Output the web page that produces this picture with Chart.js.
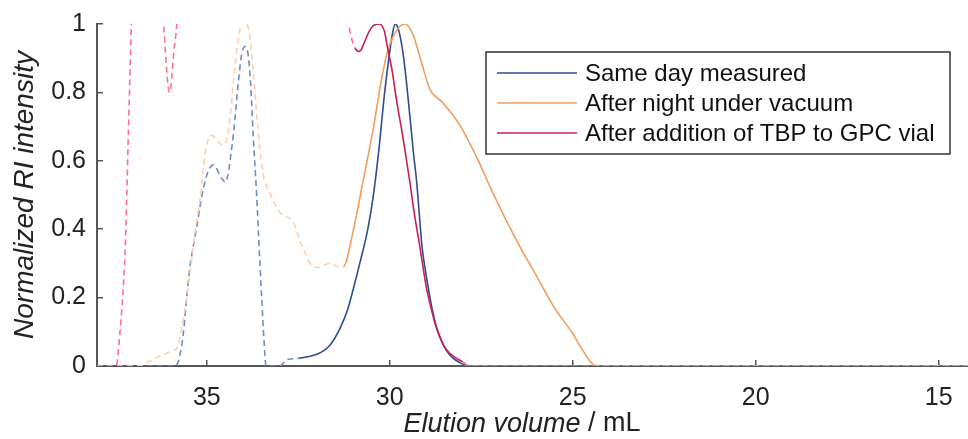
<!DOCTYPE html>
<html>
<head>
<meta charset="utf-8">
<script src="https://cdn.jsdelivr.net/npm/chart.js@4.4.1/dist/chart.umd.min.js"></script>
<style>
  html, body { margin: 0; padding: 0; background: #fff; }
  canvas { display: block; }
</style>
</head>
<body>
<canvas id="grafico" width="968" height="439"></canvas>
<script>
// GPC traces: elution volume (mL) vs normalized RI intensity
const volumeSameDay = [38, 35.85, 35.72, 35.64, 35.55, 35.46, 35.37, 35.27, 35.18, 35.09, 34.96, 34.82, 34.72, 34.64, 34.55, 34.50, 34.41, 34.34, 34.27, 34.14, 34.05, 33.96, 33.87, 33.80, 33.73, 33.64, 33.58, 33.50, 33.44, 33.38, 33.00, 32.82, 32.65, 32.46, 32.20, 31.91, 31.64, 31.36, 31.15, 31.01, 30.82, 30.60, 30.46, 30.30, 30.14, 30.00, 29.92, 29.85, 29.78, 29.70, 29.62, 29.55, 29.45, 29.35, 29.27, 29.19, 29.12, 29.02, 28.91, 28.83, 28.74, 28.64, 28.45, 28.28, 28.09, 27.95, 27.60, 14.2];
const intensitySameDay = [0, 0, 0.04, 0.096, 0.2, 0.29, 0.35, 0.41, 0.47, 0.52, 0.57, 0.588, 0.575, 0.556, 0.543, 0.537, 0.565, 0.62, 0.68, 0.827, 0.91, 0.934, 0.91, 0.82, 0.67, 0.505, 0.37, 0.2, 0.08, 0, 0, 0.018, 0.021, 0.023, 0.028, 0.038, 0.06, 0.11, 0.165, 0.22, 0.30, 0.40, 0.49, 0.63, 0.80, 0.92, 0.975, 1.0, 0.99, 0.955, 0.9, 0.836, 0.73, 0.62, 0.544, 0.44, 0.35, 0.275, 0.205, 0.16, 0.12, 0.088, 0.045, 0.024, 0.01, 0.003, 0, 0];

const volumeVacuum = [38, 36.85, 36.55, 36.27, 35.92, 35.80, 35.67, 35.55, 35.45, 35.37, 35.28, 35.18, 35.05, 34.95, 34.86, 34.72, 34.55, 34.45, 34.36, 34.23, 34.09, 33.98, 33.87, 33.80, 33.73, 33.60, 33.46, 33.36, 33.27, 33.05, 32.86, 32.73, 32.59, 32.46, 32.27, 32.09, 31.91, 31.75, 31.64, 31.52, 31.41, 31.27, 31.01, 30.74, 30.44, 30.24, 30.06, 29.82, 29.59, 29.37, 29.10, 28.91, 28.55, 28.09, 27.60, 27.20, 26.50, 26.00, 25.50, 25.00, 24.75, 24.44, 24.20, 14.2];
const intensityVacuum = [0, 0, 0.015, 0.03, 0.045, 0.055, 0.12, 0.2, 0.28, 0.35, 0.42, 0.49, 0.62, 0.665, 0.675, 0.66, 0.646, 0.665, 0.73, 0.875, 0.985, 1.01, 0.99, 0.94, 0.86, 0.69, 0.56, 0.525, 0.505, 0.456, 0.437, 0.432, 0.41, 0.368, 0.32, 0.29, 0.288, 0.297, 0.3, 0.295, 0.29, 0.29, 0.39, 0.535, 0.70, 0.83, 0.92, 0.98, 1.0, 0.97, 0.875, 0.81, 0.77, 0.705, 0.605, 0.51, 0.36, 0.265, 0.17, 0.095, 0.05, 0.005, 0, 0];

const volumeTbp = [38, 37.50, 37.45, 37.38, 37.30, 37.23, 37.14, 37.06, 37.00, 36.60, 36.25, 36.18, 36.12, 36.06, 36.02, 35.98, 35.90, 35.82, 35.75, 33.50, 31.20, 31.11, 31.02, 30.95, 30.87, 30.80, 30.70, 30.58, 30.45, 30.29, 30.15, 30.06, 29.93, 29.82, 29.65, 29.46, 29.32, 29.18, 29.00, 28.85, 28.75, 28.55, 28.37, 28.01, 27.80, 14.2];
const intensityTbp = [0, 0, 0.01, 0.09, 0.2, 0.34, 0.69, 1.0, 1.2, 1.5, 1.1, 1.0, 0.9, 0.82, 0.8, 0.82, 0.92, 1.0, 1.15, 1.6, 1.05, 0.99, 0.95, 0.93, 0.92, 0.922, 0.945, 0.975, 0.995, 1.0, 0.98, 0.93, 0.86, 0.78, 0.675, 0.544, 0.44, 0.35, 0.23, 0.16, 0.12, 0.065, 0.038, 0.012, 0, 0];

// polymer peak window (solid), everything else is dashed
const peakSameDay = [32.46, 27.95];
const peakVacuum = [31.27, 24.44];
const peakTbp = [30.95, 28.01];

const seriesNames = ['Same day measured', 'After night under vacuum', 'After addition of TBP to GPC vial'];
const xTicks = [35, 30, 25, 20, 15];
const yTicks = [0, 0.2, 0.4, 0.6, 0.8, 1];

const corSolida = ['rgb(46, 76, 146)', 'rgb(243, 156, 92)', 'rgb(204, 30, 82)'];
const corTracejada = ['rgb(112, 140, 196)', 'rgb(255, 206, 174)', 'rgb(255, 112, 142)'];
const corEixo = '#555';
const fonte = '"Liberation Sans", Arial, Helvetica, sans-serif';

function pontos(xs, ys) {
    return xs.map((x, i) => ({ x: x, y: ys[i] }));
}

function dentroDoPico(ctx, faixa) {
    return ctx.p0.parsed.x <= faixa[0] + 1e-6 && ctx.p1.parsed.x >= faixa[1] - 1e-6;
}

function criarSerie(i, xs, ys, faixa, ordem) {
    return {
        label: seriesNames[i],
        data: pontos(xs, ys),
        borderColor: corSolida[i],
        borderWidth: 1.6,
        pointRadius: 0,
        cubicInterpolationMode: 'monotone',
        order: ordem,
        segment: {
            borderColor: ctx => dentroDoPico(ctx, faixa) ? corSolida[i] : corTracejada[i],
            borderDash: ctx => dentroDoPico(ctx, faixa) ? [] : [6, 4]
        }
    };
}

// axes keep the exact plot box, no extra room for edge labels
function semPadding(scale) {
    scale.paddingLeft = 0;
    scale.paddingRight = 0;
    scale.paddingTop = 0;
    scale.paddingBottom = 0;
}

// x title has mixed styles: italic quantity, upright unit
const tituloX = {
    id: 'tituloX',
    afterDraw(chart) {
        const c = chart.ctx;
        const parte1 = 'Elution volume';
        const parte2 = ' / mL';
        c.save();
        c.fillStyle = '#222';
        c.textBaseline = 'middle';
        c.font = 'italic 27px ' + fonte;
        const w1 = c.measureText(parte1).width;
        c.font = '27px ' + fonte;
        const w2 = c.measureText(parte2).width;
        let x = 522 - (w1 + w2) / 2;
        const y = 424;
        c.font = 'italic 27px ' + fonte;
        c.fillText(parte1, x, y);
        c.font = '27px ' + fonte;
        c.fillText(parte2, x + w1, y);
        c.restore();
    }
};

// boxed legend inside the plot
const legendaCaixa = {
    id: 'legendaCaixa',
    afterDatasetsDraw(chart) {
        const c = chart.ctx;
        const box = { left: 486, top: 52, right: 950, bottom: 154 };
        c.save();
        c.fillStyle = '#fff';
        c.fillRect(box.left, box.top, box.right - box.left, box.bottom - box.top);
        c.strokeStyle = '#333';
        c.lineWidth = 1.5;
        c.strokeRect(box.left, box.top, box.right - box.left, box.bottom - box.top);
        c.font = '24px ' + fonte;
        c.textBaseline = 'middle';
        seriesNames.forEach((nome, i) => {
            const y = 73 + i * 30;
            c.strokeStyle = corSolida[i];
            c.lineWidth = 1.6;
            c.beginPath();
            c.moveTo(497, y);
            c.lineTo(577, y);
            c.stroke();
            c.fillStyle = '#111';
            c.fillText(nome, 585, y + 1);
        });
        c.restore();
    }
};

const ctx = document.getElementById('grafico').getContext('2d');
const myChart = new Chart(ctx, {
    type: 'line',
    data: {
        datasets: [
            criarSerie(0, volumeSameDay, intensitySameDay, peakSameDay, 3),
            criarSerie(1, volumeVacuum, intensityVacuum, peakVacuum, 2),
            criarSerie(2, volumeTbp, intensityTbp, peakTbp, 1)
        ]
    },
    options: {
        responsive: false,
        animation: false,
        devicePixelRatio: 1,
        layout: { padding: { top: 24, right: 0, left: 0, bottom: 0 } },
        scales: {
            x: {
                type: 'linear',
                reverse: true,
                min: 14.2,
                max: 38,
                afterBuildTicks: scale => { scale.ticks = xTicks.map(v => ({ value: v })); },
                afterFit: scale => { scale.height = 73; semPadding(scale); },
                grid: { drawOnChartArea: false, tickLength: -6, color: corEixo, lineWidth: 1.5 },
                border: { color: corEixo, width: 2 },
                ticks: {
                    padding: 23,
                    color: '#222',
                    font: { family: fonte, size: 25 },
                    callback: v => String(v)
                }
            },
            y: {
                min: 0,
                max: 1,
                afterBuildTicks: scale => { scale.ticks = yTicks.map(v => ({ value: v })); },
                afterFit: scale => { scale.width = 97; semPadding(scale); },
                grid: { drawOnChartArea: false, tickLength: -6, color: corEixo, lineWidth: 1.5 },
                border: { color: corEixo, width: 2 },
                ticks: {
                    padding: 17,
                    color: '#222',
                    font: { family: fonte, size: 25 },
                    callback: v => String(v)
                },
                title: {
                    display: true,
                    text: 'Normalized RI intensity',
                    color: '#222',
                    padding: { top: 11, bottom: 0 },
                    font: { family: fonte, size: 28, style: 'italic', lineHeight: 1 }
                }
            }
        },
        plugins: {
            legend: { display: false },
            tooltip: { enabled: false }
        }
    },
    plugins: [tituloX, legendaCaixa]
});
</script>
</body>
</html>
